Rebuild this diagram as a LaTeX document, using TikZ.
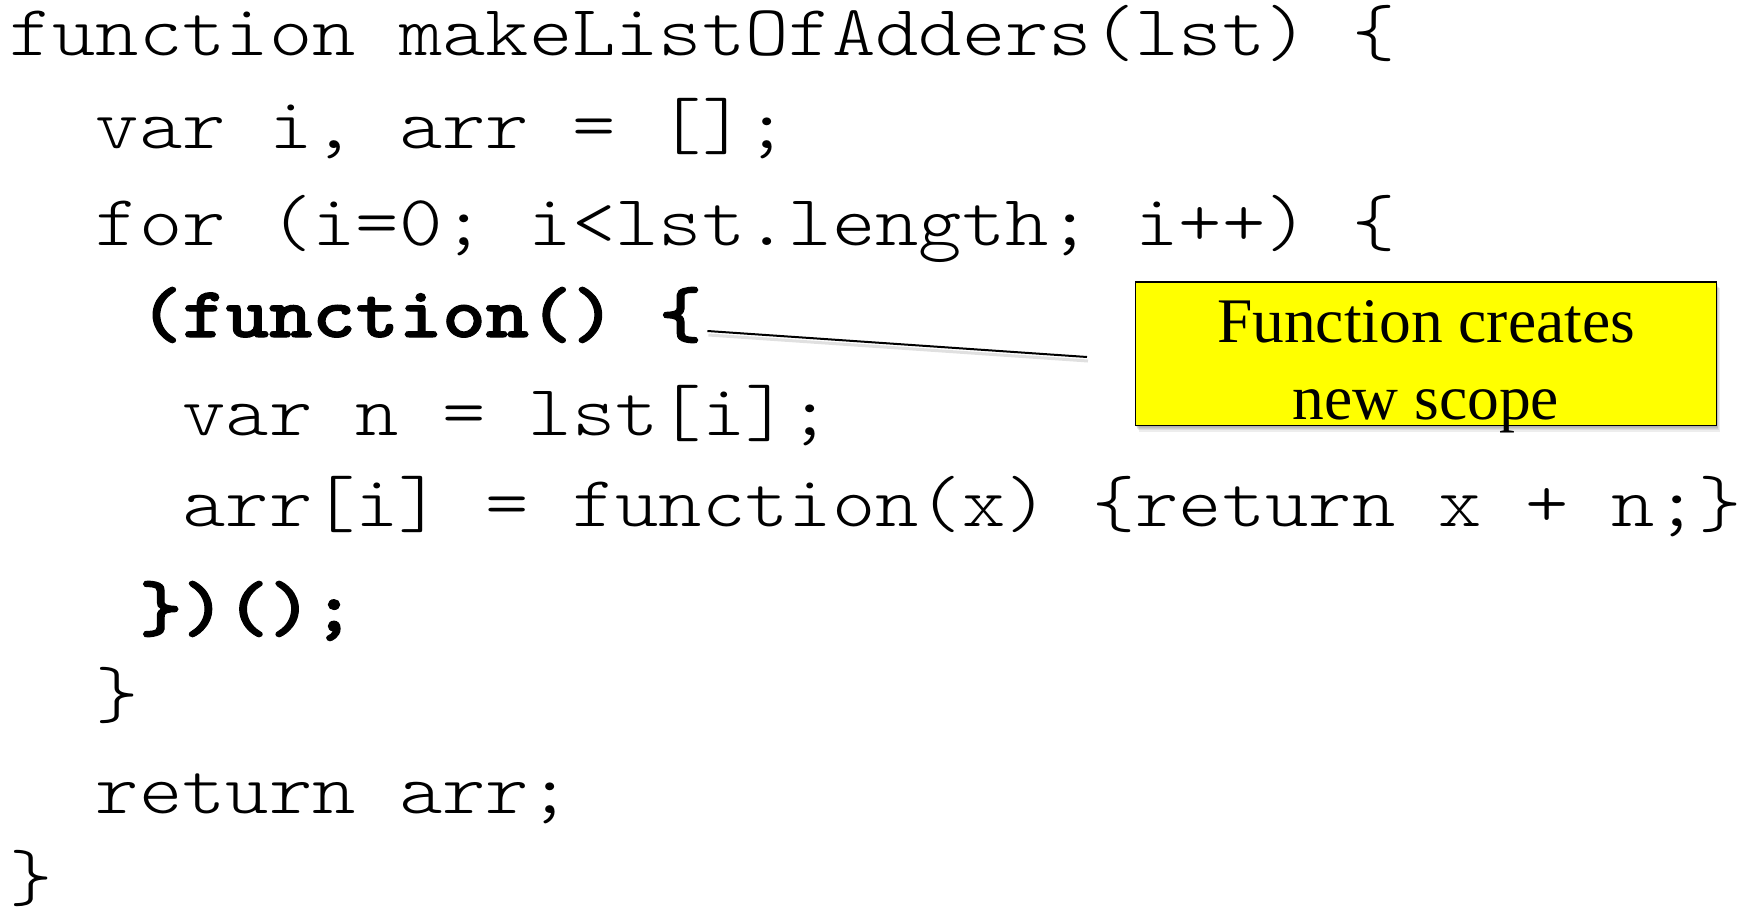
\documentclass[tikz,border=0pt]{standalone}
\usepackage{fontspec}
\newfontfamily\codefont{lmmonolt10-regular}[Extension=.otf, FakeStretch=1.146,
  BoldFont=lmmonolt10-bold, BoldFeatures={FakeStretch=1.146, FakeBold=1.5}]
\newfontfamily\notefont{Liberation Serif}
\begin{document}
\begin{tikzpicture}[x=1pt,y=1pt,
  code/.style={anchor=base west, inner sep=0pt,
    font=\codefont\fontsize{72}{80}\selectfont},
  codebold/.style={code,
    font=\codefont\bfseries\fontsize{72}{80}\selectfont},
  notebox/.style={draw=black, line width=1.5pt, fill={rgb,255:red,255;green,255;blue,0},
    minimum width=581pt, minimum height=143.5pt, inner sep=0pt},
  notetext/.style={anchor=base, inner sep=0pt,
    font=\notefont\fontsize{63.5}{77}\selectfont},
  pointer/.style={draw=black, line width=2pt},
  softshade/.style={fill=black, opacity=0.07}
]
\useasboundingbox (0,0) rectangle (1742,-918);

% program text, one node per line (indent step = one character cell, 43.3pt)
\node[code]     (l1)  at (9,-55)     {function makeListOfAdders(lst) \{};
\node[code]     (l2)  at (95.6,-148) {var i, arr = [];};
\node[code]     (l3)  at (95.6,-245) {for (i=0; i<lst.length; i++) \{};
\node[codebold] (l4)  at (138.9,-337) {(function() \{};
\node[code]     (l5)  at (182.2,-435) {var n = lst[i];};
\node[code]     (l6)  at (182.2,-526) {arr[i] = function(x) \{return x + n;\}};
\node[codebold] (l7)  at (138.9,-631) {\})();};
\node[code]     (l8)  at (95.6,-717) {\}};
\node[code]     (l9)  at (95.6,-813) {return arr;};
\node[code]     (l10) at (9,-900)    {\}};

% callout box with a soft drop shadow
\coordinate (boxc) at (1426,-353.75);
\foreach \d in {1,2,3,4,5}{
  \fill[softshade] ([shift={(-290.5+\d*0.6,-71.75-\d*1.2)}]boxc)
    rectangle ([shift={(290.5+\d*0.6,71.75-\d*1.2)}]boxc);
}
\node[notebox] (note) at (boxc) {};
\node[notetext] (note1) at (1426,-342) {Function creates};
\node[notetext] (note2) at (1426,-419) {new scope};

% pointer from the opening brace towards the callout
\coordinate (pstart) at ([shift={(5,6)}]l4.base east);
\coordinate (pend) at (1087,-357);
\draw[line width=3pt, black, opacity=0.12] ([shift={(1,-4)}]pstart) -- ([shift={(1,-4)}]pend);
\draw[pointer] (pstart) -- (pend);
\end{tikzpicture}
\end{document}
